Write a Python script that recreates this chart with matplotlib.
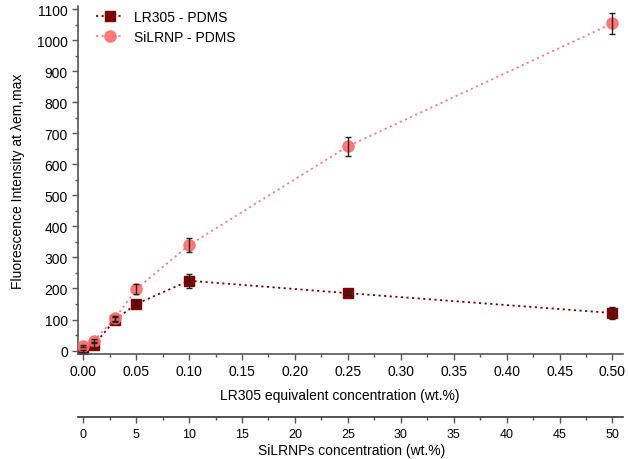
import matplotlib
matplotlib.use("Agg")
import matplotlib.pyplot as plt
from matplotlib.ticker import MultipleLocator, FormatStrFormatter

plt.rcParams['font.family'] = ['Liberation Sans', 'DejaVu Sans']

conc = [0.0, 0.01, 0.03, 0.05, 0.10, 0.25, 0.50]
lr305 = [0, 18, 99, 150, 225, 185, 121]
lr305_err = [3, 5, 8, 10, 22, 6, 18]
silrnp = [15, 32, 104, 198, 340, 658, 1054]
silrnp_err = [3, 5, 8, 17, 24, 30, 35]

dark = '#800000'
light = '#FF6B6B'
axcol = '#555555'

W, H = 628, 460
fig = plt.figure(figsize=(W / 100, H / 100), dpi=100)

x0, x1 = 77.7, 623.0
left, right = x0 / W, x1 / W
ax = fig.add_axes([left, 1 - 355 / H, right - left, 348 / H])

dots = (0, (1.2, 1.9))
ax.plot(conc, lr305, color=dark, ls=dots, lw=1.3, marker='s', ms=6.8,
        mfc=dark, mec=dark, label='LR305 - PDMS', zorder=2)
ax.plot(conc, silrnp, color=light, ls=dots, lw=1.3, marker='o', ms=8,
        mfc=light, mec=light, alpha=0.9, label='SiLRNP - PDMS', zorder=3)
ax.errorbar(conc, lr305, yerr=lr305_err, fmt='none', ecolor='#222222',
            elinewidth=1, capsize=2.5, capthick=1, zorder=4)
ax.errorbar(conc, silrnp, yerr=silrnp_err, fmt='none', ecolor='#222222',
            elinewidth=1, capsize=2.5, capthick=1, zorder=4)

ax.set_xlim(-0.0053, 0.510)
ax.set_ylim(-11, 1110)
ax.xaxis.set_major_locator(MultipleLocator(0.05))
ax.xaxis.set_minor_locator(MultipleLocator(0.025))
ax.xaxis.set_major_formatter(FormatStrFormatter('%.2f'))
ax.yaxis.set_major_locator(MultipleLocator(100))
ax.yaxis.set_minor_locator(MultipleLocator(50))
for s in ['top', 'right']:
    ax.spines[s].set_visible(False)
for s in ['left', 'bottom']:
    ax.spines[s].set_color(axcol)
    ax.spines[s].set_linewidth(1.2)
ax.tick_params(which='major', direction='out', length=4, width=1, labelsize=10,
               color=axcol, pad=3)
ax.tick_params(which='minor', direction='out', length=2.5, width=1, color=axcol)
ax.set_xlabel('LR305 equivalent concentration (wt.%)', fontsize=10)
ax.xaxis.set_label_coords((340 - x0) / (x1 - x0), -(396 - 355) / 348, transform=ax.transAxes)
ax.xaxis.label.set_va('center')
ax.set_ylabel('Fluorescence Intensity at λem,max', fontsize=10)
ax.yaxis.set_label_coords(-(x0 - 18) / (x1 - x0), 0.5, transform=ax.transAxes)
ax.yaxis.label.set_va('center')

ax.legend(loc='upper left', bbox_to_anchor=(96 / W, 1 - 11 / H),
          bbox_transform=fig.transFigure, frameon=False, fontsize=10,
          handlelength=2.0, handletextpad=0.7, labelspacing=0.42,
          borderpad=0, borderaxespad=0)

ax2 = fig.add_axes([left, 1 - 418.3 / H, right - left, 0.0001])
ax2.set_xlim(-0.53, 51.0)
ax2.set_yticks([])
for s in ['top', 'right', 'left']:
    ax2.spines[s].set_visible(False)
ax2.spines['bottom'].set_color('#333333')
ax2.spines['bottom'].set_linewidth(1.2)
ax2.xaxis.set_major_locator(MultipleLocator(5))
ax2.xaxis.set_minor_locator(MultipleLocator(2.5))
ax2.tick_params(which='major', direction='out', length=4, width=1, labelsize=9,
                color=axcol, pad=4)
ax2.tick_params(which='minor', direction='out', length=2.5, width=1, color=axcol)
ax2.patch.set_alpha(0)
fig.text(351.5 / W, 1 - 450.7 / H, 'SiLRNPs concentration (wt.%)', fontsize=10,
         ha='center', va='center')

fig.savefig('out.png', dpi=100)
